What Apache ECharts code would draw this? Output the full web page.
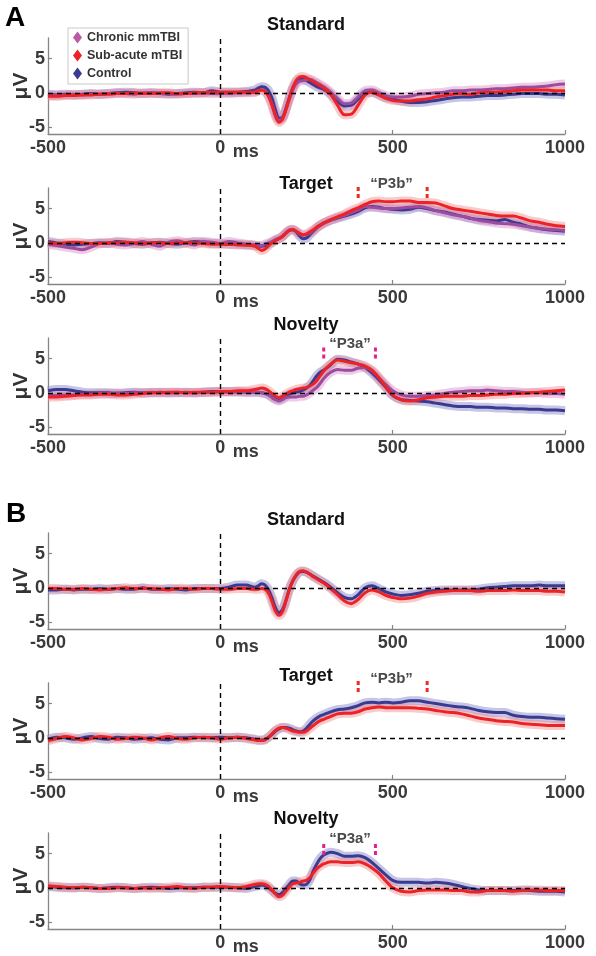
<!DOCTYPE html>
<html><head><meta charset="utf-8">
<script src="https://cdn.jsdelivr.net/npm/echarts@6/dist/echarts.min.js"></script>
<style>html,body{margin:0;padding:0;background:#fff}#c{width:596px;height:956px}</style>
</head><body><div id="c"></div><script>
// ---------- DATA ----------
const times = [
 -500,-475,-450,-425,-400,-375,-350,-325,-300,-275,-250,-225,-200,-175,-150,-125,-100,-75,-50,-25,0,25,50,75,100,
 110,120,130,140,150,160,170,180,190,200,210,220,230,240,250,260,270,280,290,300,
 320,340,360,380,400,420,440,460,480,500,
 525,550,575,600,625,650,675,700,725,750,775,800,825,850,875,900,925,950,975,1000];

const groups = ['Chronic mmTBI','Sub-acute mTBI','Control'];
const panelTitles = ['Standard','Target','Novelty','Standard','Target','Novelty'];
const panelLetters = ['A','B'];
const xTicks = [-500,0,500,1000];
const xTicksNoMin = [0,500,1000];
const yTicks = [-5,0,5];
const componentNames = ['\u201cP3b\u201d','\u201cP3a\u201d'];
const p3bWindow = [400,600];
const p3aWindow = [300,450];

// A: Standard
const A_std_control = [-0.2,-0.3,-0.2,-0.3,-0.2,-0.1,-0.2,-0.1,0.0,0.1,0.0,-0.1,0.0,-0.1,-0.2,-0.1,0.0,0.1,0.0,0.3,0.1,0.1,0.1,0.2,0.4,
 0.7,0.9,0.8,0.3,-0.8,-2.5,-3.7,-3.6,-2.3,-0.7,0.7,1.6,2.0,2.0,1.8,1.5,1.2,0.9,0.7,0.5,
 -0.2,-1.2,-1.9,-1.8,-0.9,0.0,0.1,-0.3,-0.7,-0.9,
 -1.2,-1.4,-1.4,-1.3,-1.1,-0.9,-0.7,-0.6,-0.6,-0.5,-0.4,-0.4,-0.3,-0.2,-0.1,-0.1,-0.1,-0.2,-0.2,-0.3];
const A_std_sub = [-0.5,-0.5,-0.4,-0.4,-0.3,-0.3,-0.2,-0.2,-0.1,-0.1,0.0,-0.1,-0.1,0.0,0.0,-0.1,-0.1,0.0,0.0,0.1,0.1,0.1,0.1,0.1,0.1,
 0.3,0.4,0.2,-0.5,-1.8,-3.4,-4.3,-3.9,-2.5,-0.8,0.7,1.8,2.3,2.4,2.2,1.9,1.6,1.3,1.0,0.7,
 -0.2,-1.8,-3.2,-3.1,-1.8,-0.3,0.1,-0.3,-0.8,-1.1,
 -1.2,-1.2,-1.0,-0.9,-0.6,-0.4,-0.2,-0.1,-0.2,0.0,0.1,0.1,0.2,0.3,0.4,0.4,0.4,0.4,0.3,0.3];
const A_std_chronic = [-0.4,-0.3,-0.3,-0.2,-0.3,-0.2,-0.2,-0.1,0.0,-0.1,-0.2,0.0,0.0,-0.1,-0.1,-0.2,-0.1,-0.1,0.0,-0.1,-0.1,-0.1,0.0,0.0,0.1,
 0.3,0.4,0.2,-0.5,-1.7,-3.2,-4.0,-3.7,-2.5,-1.0,0.4,1.3,1.7,1.8,1.9,2.0,1.8,1.5,1.2,0.9,
 0.1,-0.8,-1.6,-1.5,-0.6,0.3,0.4,0.0,-0.4,-0.6,
 -0.6,-0.5,-0.2,-0.1,0.0,0.1,0.3,0.3,0.4,0.4,0.5,0.6,0.6,0.7,0.8,0.8,0.9,1.0,1.2,1.3];

// A: Target
const A_tgt_control = [0.2,0.0,-0.2,-0.3,-0.2,-0.1,0.0,-0.1,0.2,0.1,-0.1,-0.2,0.0,0.1,-0.1,-0.2,0.0,0.2,0.1,-0.1,-0.1,-0.2,-0.2,-0.3,-0.4,
 -0.5,-0.5,-0.4,-0.2,0.1,0.4,0.6,0.9,1.4,1.8,1.9,1.6,1.0,0.6,0.7,1.2,1.7,2.2,2.6,2.9,
 3.3,3.6,3.9,4.2,4.6,5.1,5.3,5.2,5.0,4.9,
 4.8,4.9,5.2,5.0,4.7,4.5,4.2,3.9,3.6,3.4,3.3,3.2,3.4,3.0,2.7,2.3,2.1,1.9,1.8,1.7];
const A_tgt_sub = [0.0,-0.1,0.0,0.1,0.0,-0.1,-0.1,0.0,0.0,0.1,0.0,-0.1,0.0,0.0,-0.1,0.0,0.0,0.0,-0.1,-0.2,-0.2,-0.2,-0.3,-0.3,-0.5,
 -0.8,-1.1,-0.9,-0.4,0.0,0.3,0.6,0.9,1.4,1.8,1.9,1.7,1.4,1.2,1.3,1.6,1.9,2.3,2.6,2.9,
 3.4,3.8,4.2,4.7,5.1,5.6,6.0,6.1,6.0,6.0,
 6.1,6.1,5.9,5.9,5.8,5.4,5.0,4.8,4.6,4.4,4.2,4.0,3.9,3.9,3.6,3.2,3.0,2.7,2.5,2.4];
const A_tgt_chronic = [-0.2,-0.4,-0.6,-0.8,-1.0,-0.6,-0.1,0.0,-0.2,-0.3,-0.1,0.2,-0.2,-0.5,0.1,0.3,0.0,-0.3,0.2,0.1,-0.1,0.2,0.0,-0.2,-0.3,
 -0.4,-0.4,-0.2,0.0,0.2,0.5,0.7,1.0,1.5,1.9,2.0,1.7,1.3,1.1,1.2,1.4,1.8,2.2,2.5,2.8,
 3.3,3.7,4.0,4.4,4.8,5.3,5.2,5.1,5.0,5.0,
 5.1,5.2,5.3,5.1,4.7,4.4,4.1,3.9,3.6,3.3,3.1,2.9,2.8,2.7,2.5,2.3,2.1,2.0,1.9,1.8];

// A: Novelty
const A_nov_control = [0.3,0.5,0.5,0.3,0.1,0.0,0.0,0.0,-0.1,0.0,0.1,0.0,0.0,0.1,0.0,0.0,0.1,0.0,0.1,0.2,0.2,0.2,0.2,0.1,0.1,
 0.1,0.0,-0.1,-0.3,-0.6,-0.9,-1.0,-0.8,-0.5,-0.2,0.0,0.1,0.2,0.4,0.7,1.1,1.8,2.5,3.0,3.3,
 4.1,4.9,4.8,4.5,4.2,3.7,2.9,1.9,0.8,-0.4,
 -1.0,-1.1,-1.2,-1.3,-1.5,-1.7,-1.9,-2.0,-2.0,-2.1,-2.1,-2.2,-2.2,-2.3,-2.3,-2.4,-2.4,-2.5,-2.5,-2.6];
const A_nov_sub = [-0.6,-0.6,-0.5,-0.4,-0.3,-0.3,-0.2,-0.2,-0.3,-0.3,-0.2,-0.1,0.0,0.0,0.1,0.1,0.0,0.1,0.1,0.1,0.2,0.2,0.3,0.3,0.5,
 0.6,0.7,0.6,0.3,-0.1,-0.5,-0.7,-0.5,-0.2,0.1,0.3,0.5,0.6,0.7,0.8,1.0,1.3,1.8,2.5,3.2,
 4.2,4.8,4.6,4.4,4.2,3.9,3.3,2.2,0.9,-0.3,
 -1.0,-1.2,-1.0,-0.7,-0.6,-0.5,-0.5,-0.5,-0.4,-0.4,-0.3,-0.2,-0.2,-0.1,-0.1,0.0,0.1,0.2,0.3,0.4];
const A_nov_chronic = [-0.4,-0.4,-0.3,-0.3,-0.2,-0.2,-0.1,-0.1,0.0,-0.1,0.0,0.0,0.1,0.0,0.0,0.1,0.0,0.0,0.1,0.1,0.1,0.1,0.1,0.1,0.1,
 0.1,0.0,-0.1,-0.3,-0.7,-1.0,-1.2,-1.0,-0.7,-0.6,-0.6,-0.6,-0.5,-0.5,-0.3,0.0,0.4,0.8,1.4,2.1,
 3.0,3.4,3.3,3.3,3.6,3.7,3.2,2.2,1.2,0.3,
 -0.3,-0.5,-0.5,-0.4,-0.3,-0.1,0.1,0.2,0.3,0.3,0.4,0.3,0.2,0.2,0.1,0.0,0.0,-0.1,-0.1,-0.2];

// B: Standard
const B_std_control = [-0.3,-0.3,-0.2,-0.3,-0.2,-0.2,-0.1,-0.2,-0.1,-0.2,-0.2,0.0,-0.2,-0.2,-0.1,-0.2,-0.3,-0.1,-0.1,-0.1,-0.1,0.1,0.4,0.4,0.1,
 0.3,0.6,0.4,-0.3,-1.5,-2.9,-3.6,-3.2,-1.9,-0.2,1.0,1.8,2.3,2.4,2.3,2.0,1.7,1.4,1.1,0.8,
 0.1,-0.7,-1.4,-1.6,-1.0,0.0,0.3,-0.1,-0.6,-0.9,
 -1.1,-1.0,-0.8,-0.5,-0.4,-0.3,-0.3,-0.3,-0.3,-0.2,0.0,0.1,0.2,0.3,0.3,0.3,0.4,0.3,0.3,0.3];
const B_std_sub = [-0.1,-0.1,-0.2,-0.2,-0.1,-0.2,-0.3,-0.2,-0.1,0.0,-0.1,-0.1,-0.1,-0.2,-0.3,-0.1,-0.1,-0.2,-0.1,-0.1,-0.2,-0.2,-0.1,-0.1,-0.2,
 -0.2,-0.1,-0.2,-0.8,-2.0,-3.4,-4.0,-3.5,-2.0,-0.3,1.0,1.9,2.4,2.5,2.3,2.0,1.6,1.3,1.0,0.7,
 -0.1,-1.0,-1.9,-2.3,-1.7,-0.7,-0.3,-0.6,-1.1,-1.4,
 -1.6,-1.5,-1.2,-0.8,-0.6,-0.5,-0.4,-0.4,-0.4,-0.5,-0.4,-0.4,-0.4,-0.3,-0.4,-0.4,-0.4,-0.5,-0.5,-0.6];

// B: Target
const B_tgt_control = [-0.2,0.1,0.0,-0.2,0.0,0.2,-0.1,-0.2,0.1,0.0,-0.2,-0.1,0.0,-0.2,-0.3,0.0,0.0,0.1,0.0,0.0,0.1,0.0,0.1,0.0,-0.2,
 -0.3,-0.3,-0.2,0.1,0.5,1.0,1.3,1.5,1.5,1.4,1.2,1.0,0.9,1.0,1.4,2.0,2.5,2.9,3.2,3.4,
 3.8,4.1,4.2,4.4,4.7,5.1,5.2,5.1,5.2,5.1,
 5.2,5.4,5.4,5.2,5.0,4.8,4.6,4.5,4.3,4.0,3.8,3.7,3.7,3.3,3.1,3.0,3.0,2.9,2.8,2.7];
const B_tgt_sub = [-0.4,-0.1,0.2,0.0,-0.3,-0.1,0.2,0.1,-0.2,-0.1,0.1,0.0,-0.3,0.0,0.2,-0.1,-0.2,0.0,0.1,0.0,-0.2,0.0,0.1,-0.1,-0.3,
 -0.4,-0.4,-0.3,0.1,0.6,1.1,1.4,1.5,1.4,1.2,1.0,0.9,0.8,0.8,1.0,1.4,1.8,2.2,2.5,2.7,
 3.1,3.5,3.6,3.6,3.8,4.2,4.4,4.5,4.4,4.4,
 4.4,4.4,4.3,4.2,4.0,3.8,3.7,3.5,3.2,2.9,2.7,2.5,2.4,2.3,2.1,2.0,1.9,1.8,1.8,1.8];

// B: Novelty
const B_nov_control = [0.2,0.1,0.0,0.0,0.1,0.0,-0.1,0.0,0.1,0.0,-0.1,0.0,0.1,0.0,-0.1,0.0,0.0,0.0,0.1,0.1,0.1,0.1,0.0,-0.1,0.2,
 0.3,0.4,0.3,0.0,-0.4,-0.8,-1.0,-0.7,-0.1,0.5,1.0,1.0,0.6,0.4,0.5,1.2,2.5,3.5,4.3,4.8,
 5.2,5.0,4.6,4.6,4.7,4.4,3.7,2.8,1.9,1.1,
 0.8,0.8,0.8,0.7,0.8,0.7,0.5,0.2,-0.1,-0.3,-0.4,-0.4,-0.4,-0.4,-0.3,-0.4,-0.5,-0.5,-0.5,-0.6];
const B_nov_sub = [0.3,0.2,0.1,0.0,0.1,0.0,-0.1,-0.1,0.0,0.0,-0.1,0.0,-0.1,0.0,0.1,0.2,0.0,-0.1,0.1,0.1,0.2,0.1,0.0,0.2,0.5,
 0.6,0.6,0.5,0.2,-0.3,-0.9,-1.3,-1.1,-0.5,0.1,0.6,0.7,0.8,1.0,1.1,1.5,2.2,2.8,3.2,3.5,
 3.8,3.8,3.7,3.7,3.8,3.5,2.9,2.1,1.0,0.0,
 -0.5,-0.6,-0.4,-0.3,-0.3,-0.3,-0.4,-0.4,-0.6,-0.6,-0.4,-0.4,-0.4,-0.5,-0.4,-0.3,-0.3,-0.4,-0.4,-0.4];

// ---------- LAYOUT / STYLE ----------
const panels = [
  {control:A_std_control, sub:A_std_sub, chronic:A_std_chronic},
  {control:A_tgt_control, sub:A_tgt_sub, chronic:A_tgt_chronic, comp:0, win:p3bWindow},
  {control:A_nov_control, sub:A_nov_sub, chronic:A_nov_chronic, comp:1, win:p3aWindow},
  {control:B_std_control, sub:B_std_sub},
  {control:B_tgt_control, sub:B_tgt_sub, comp:0, win:p3bWindow},
  {control:B_nov_control, sub:B_nov_sub, comp:1, win:p3aWindow, noMinLabel:true}
];
const gridTops = [38,188,338,533,683,833];
const gridH = 96;
const gridLeft = 48, gridRight = 31;
const titleYs = [25,184.5,325.5,520,676,819];
const compTextYs = [0,184,343.5,0,679,839];
const markerTopYs = [0,187,347.5,0,681,844];
const FONT = 'Arial, "Liberation Sans", sans-serif';

const style = {
  'Control':        {line:'#3a3a90', band:'#7f7fc6'},
  'Sub-acute mTBI': {line:'#ec2227', band:'#f28a8a'},
  'Chronic mmTBI':  {line:'#9b4c9c', band:'#d98bc8'}
};
const compColors = ['#ee2a24','#e6208a'];

const chart = echarts.init(document.getElementById('c'), null, {renderer:'canvas'});
const grid=[], xAxis=[], yAxis=[], series=[];
panels.forEach((p,i)=>{
  grid.push({left:gridLeft, right:gridRight, top:gridTops[i], height:gridH, containLabel:false, outerBoundsMode:'none'});
  xAxis.push({type:'value', gridIndex:i, min:-500, max:1000, interval:500,
    axisLine:{onZero:false, lineStyle:{color:'#858585', width:1.3}},
    axisTick:{inside:true, length:4, lineStyle:{color:'#858585', width:1.2}},
    axisLabel:{customValues: p.noMinLabel ? xTicksNoMin : xTicks, showMinLabel:true, showMaxLabel:true,
      formatter:(v)=>String(v), hideOverlap:false,
      margin:5, fontSize:18, fontWeight:'bold', color:'#3a3a3a', fontFamily:FONT},
    splitLine:{show:false}});
  yAxis.push({type:'value', gridIndex:i, min:-6, max:8,
    name:'\u03bcV', nameLocation:'middle', nameRotate:90, nameGap:16, nameMoveOverlap:false,
    nameTextStyle:{fontSize:21, fontWeight:'bold', color:'#333', fontFamily:FONT},
    axisLine:{onZero:false, lineStyle:{color:'#858585', width:1.3}},
    axisTick:{inside:true, length:4, customValues:yTicks, lineStyle:{color:'#858585', width:1.2}},
    axisLabel:{customValues:yTicks, formatter:(v)=>String(v), margin:3, fontSize:18, fontWeight:'bold', color:'#3a3a3a', fontFamily:FONT},
    splitLine:{show:false}});
  // zero reference lines
  series.push({type:'line', xAxisIndex:i, yAxisIndex:i, data:[], z:1, silent:true,
    markLine:{silent:true, symbol:['none','none'], label:{show:false}, animation:false,
      lineStyle:{color:'#000', type:[5,4], width:1.4},
      emphasis:{disabled:true},
      data:[{xAxis:0},{yAxis:0}]}});
  const list = [['Control',p.control],['Chronic mmTBI',p.chronic],['Sub-acute mTBI',p.sub]].filter(d=>d[1]);
  list.forEach(([name,arr])=>{
    series.push({type:'line', name:name+' SE', xAxisIndex:i, yAxisIndex:i, silent:true, z:2,
      data: times.map((t,k)=>[t,arr[k]]), showSymbol:false, smooth:0.3,
      lineStyle:{width:9, color:style[name].band, opacity:0.45}, emphasis:{disabled:true}});
  });
  list.forEach(([name,arr])=>{
    series.push({type:'line', name:name, xAxisIndex:i, yAxisIndex:i, z:3,
      data: times.map((t,k)=>[t,arr[k]]), showSymbol:false, smooth:0.3,
      itemStyle:{color:style[name].line},
      lineStyle:{width:3, color:style[name].line}, emphasis:{disabled:true}});
  });
});

chart.setOption({
  animation:false, backgroundColor:'#fff',
  grid, xAxis, yAxis, series,
  legend:{left:68, top:28, orient:'vertical', icon:'diamond', itemWidth:9, itemHeight:12, itemGap:5,
    itemTextGap:5, selectedMode:false, padding:[3,6,4,5], borderColor:'#c8c8c8', borderWidth:1,
    backgroundColor:'#fff',
    textStyle:{fontSize:12.5, fontWeight:'bold', color:'#333', fontFamily:FONT},
    data:[{name:'Chronic mmTBI', itemStyle:{color:'#b85aa6'}},
          {name:'Sub-acute mTBI', itemStyle:{color:'#ec2227'}},
          {name:'Control', itemStyle:{color:'#3a3a90'}}]}
});

// ---------- TEXT ANNOTATIONS ----------
const g = [];
g.push({type:'text', x:15, y:18.5, style:{text:panelLetters[0], fontSize:28, fontWeight:'bold', fill:'#000', align:'center', verticalAlign:'middle', fontFamily:FONT}});
g.push({type:'text', x:16, y:514.5, style:{text:panelLetters[1], fontSize:28, fontWeight:'bold', fill:'#000', align:'center', verticalAlign:'middle', fontFamily:FONT}});
panels.forEach((p,i)=>{
  g.push({type:'text', x:306, y:titleYs[i], style:{text:panelTitles[i], fontSize:18, fontWeight:'bold', fill:'#111', align:'center', verticalAlign:'middle', fontFamily:FONT}});
  const x0 = chart.convertToPixel({xAxisIndex:i}, 0);
  g.push({type:'text', x:x0+12.5, y:gridTops[i]+gridH+18.5, style:{text:'ms', fontSize:18, fontWeight:'bold', fill:'#3a3a3a', align:'left', verticalAlign:'middle', fontFamily:FONT}});
  if (p.comp !== undefined) {
    const xa = chart.convertToPixel({xAxisIndex:i}, p.win[0]);
    const xb = chart.convertToPixel({xAxisIndex:i}, p.win[1]);
    const cx = p.comp===0 ? 391.6 : 350;
    g.push({type:'text', x:cx, y:compTextYs[i], style:{text:componentNames[p.comp], fontSize:15, fontWeight:'bold', fill:'#4a4a4a', align:'center', verticalAlign:'middle', fontFamily:FONT}});
    [xa,xb].forEach(xx=>{
      g.push({type:'line', shape:{x1:xx, y1:markerTopYs[i], x2:xx, y2:markerTopYs[i]+11},
        style:{stroke:compColors[p.comp], lineWidth:3, lineDash:[4,3]}, z:10});
    });
  }
});
chart.setOption({graphic:g});
</script></body></html>
